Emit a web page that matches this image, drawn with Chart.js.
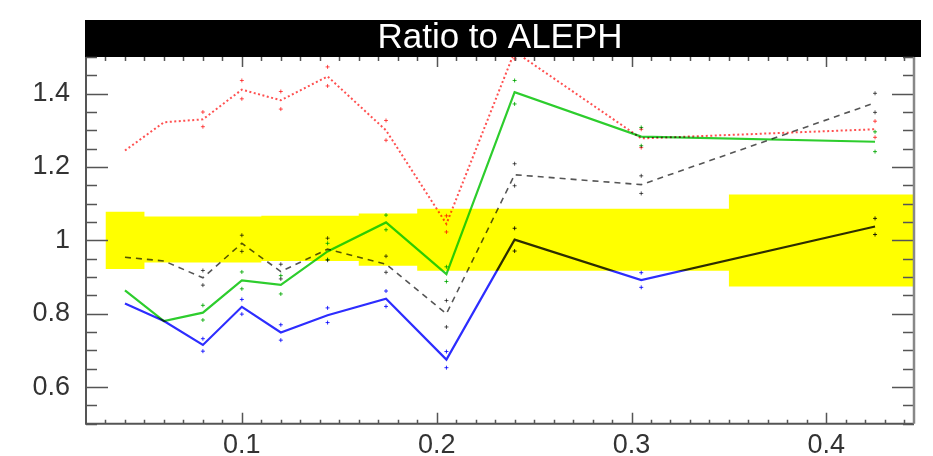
<!DOCTYPE html>
<html><head><meta charset="utf-8">
<script src="https://cdn.jsdelivr.net/npm/chart.js@4"></script>
<style>html,body{margin:0;padding:0;background:#fff}</style>
</head><body>
<canvas id="c" width="933" height="456" style="display:block;width:933px;height:456px"></canvas>
<script>
// ---- data ----
const titleText = 'Ratio to ALEPH';
const xValues  = [0.04, 0.06, 0.08, 0.10, 0.12, 0.144, 0.174, 0.205, 0.24, 0.305, 0.425];
const redSeries   = [1.245, 1.322, 1.330, 1.411, 1.382, 1.447, 1.300, 1.045, 1.515, 1.278, 1.303];
const greenSeries = [0.864, 0.780, 0.803, 0.891, 0.879, 0.970, 1.049, 0.908, 1.404, 1.283, 1.269];
const blueSeries  = [0.828, 0.780, 0.715, 0.819, 0.749, 0.796, 0.841, 0.675, 1.002, 0.892, 1.038];
const graySeries  = [0.954, 0.944, 0.898, 0.992, 0.915, 0.976, 0.935, 0.800, 1.179, 1.152, 1.375];
const redErr   = [0, 0, 0.020, 0.025, 0.024, 0.026, 0.027, 0.022, 0.020, 0.025, 0.022];
const greenErr = [0, 0, 0.020, 0.023, 0.025, 0.022, 0.020, 0.020, 0.032, 0.025, 0.027];
const blueErr  = [0, 0, 0.017, 0.020, 0.021, 0.020, 0.021, 0.022, 0.031, 0.020, 0.022];
const grayErr  = [0, 0, 0.020, 0.022, 0.020, 0.030, 0.022, 0.036, 0.030, 0.024, 0.026];
const bandEdges = [0.03, 0.05, 0.11, 0.16, 0.19, 0.35, 0.45];
const bandHigh  = [1.078, 1.065, 1.067, 1.073, 1.086, 1.125];
const bandLow   = [0.922, 0.940, 0.944, 0.931, 0.917, 0.874];
const xTickValues = [0.1, 0.2, 0.3, 0.4];
const xTickLabels = ['0.1', '0.2', '0.3', '0.4'];
const yTickValues = [0.6, 0.8, 1.0, 1.2, 1.4];
const yTickLabels = ['0.6', '0.8', '1', '1.2', '1.4'];

// ---- build datasets ----
const pts = (ys) => xValues.map((x, i) => ({x, y: ys[i]}));
const errPts = (ys, es) => xValues.flatMap((x, i) => es[i] ? [{x, y: ys[i] + es[i]}, {x, y: ys[i] - es[i]}] : []);
const bandPts = (vals) => bandEdges.map((x, i) => ({x, y: vals[Math.min(i, vals.length - 1)]}));

const lineBase = {pointRadius: 0, fill: false, tension: 0};
const markBase = {showLine: false, pointStyle: 'cross', pointRadius: 2, borderWidth: 1, fill: false};

const datasets = [
  Object.assign({label: 'red', data: pts(redSeries), borderColor: 'rgb(255,80,80)', borderWidth: 2, borderDash: [2, 2.5]}, lineBase),
  Object.assign({label: 'green', data: pts(greenSeries), borderColor: 'rgb(45,205,45)', borderWidth: 2.2}, lineBase),
  Object.assign({label: 'blue', data: pts(blueSeries), borderColor: 'rgb(45,45,255)', borderWidth: 2.2}, lineBase),
  Object.assign({label: 'gray', data: pts(graySeries), borderColor: '#555', borderWidth: 1.6, borderDash: [6, 5]}, lineBase),
  Object.assign({label: 'redErr', data: errPts(redSeries, redErr), borderColor: 'rgb(255,80,80)'}, markBase),
  Object.assign({label: 'greenErr', data: errPts(greenSeries, greenErr), borderColor: 'rgb(40,190,40)'}, markBase),
  Object.assign({label: 'blueErr', data: errPts(blueSeries, blueErr), borderColor: 'rgb(45,45,255)'}, markBase),
  Object.assign({label: 'grayErr', data: errPts(graySeries, grayErr), borderColor: '#555'}, markBase),
  {label: 'bandHigh', data: bandPts(bandHigh), stepped: true, borderWidth: 0, pointRadius: 0, fill: '+1', backgroundColor: '#ffff00', borderColor: 'rgba(0,0,0,0)'},
  {label: 'bandLow', data: bandPts(bandLow), stepped: true, borderWidth: 0, pointRadius: 0, fill: false, borderColor: 'rgba(0,0,0,0)'}
];

// ---- decoration plugin: title bar, multiply blending, frame and inward ticks ----
const framePlugin = {
  id: 'frame',
  beforeDraw(chart) {
    const {ctx, chartArea: a, titleBlock: t} = chart;
    ctx.save();
    ctx.fillStyle = '#000';
    ctx.fillRect(a.left - 1, t.top, a.right - a.left + 8, t.bottom - t.top);
    ctx.restore();
  },
  beforeDatasetsDraw(chart) {
    chart.ctx.save();
    chart.ctx.globalCompositeOperation = 'multiply';
  },
  afterDatasetsDraw(chart) {
    const ctx = chart.ctx;
    ctx.restore();
    const a = chart.chartArea, xs = chart.scales.x, ys = chart.scales.y;
    ctx.save();
    ctx.strokeStyle = '#555';
    ctx.lineWidth = 1.5;
    ctx.beginPath();
    for (let k = 10; k <= 30; k++) {
      const v = k * 0.05;
      const major = yTickValues.some(t => Math.abs(t - v) < 1e-6);
      const len = major ? 22 : 11;
      const py = Math.round(ys.getPixelForValue(v)) + 0.5;
      ctx.moveTo(a.left, py); ctx.lineTo(a.left + len, py);
      ctx.moveTo(a.right, py); ctx.lineTo(a.right - len, py);
    }
    for (let k = 3; k <= 44; k++) {
      const v = k * 0.01;
      const major = xTickValues.some(t => Math.abs(t - v) < 1e-6);
      const px = Math.round(xs.getPixelForValue(v)) + 0.5;
      ctx.moveTo(px, a.bottom); ctx.lineTo(px, a.bottom - (major ? 11 : 4));
      ctx.moveTo(px, a.top); ctx.lineTo(px, a.top + (major ? 10 : 4));
    }
    ctx.stroke();
    ctx.lineWidth = 2;
    ctx.strokeStyle = '#555';
    ctx.beginPath();
    ctx.moveTo(a.left, a.top); ctx.lineTo(a.left, a.bottom); ctx.lineTo(a.right, a.bottom);
    ctx.stroke();
    ctx.strokeStyle = '#888';
    ctx.lineWidth = 2.5;
    ctx.beginPath();
    ctx.moveTo(a.right, a.top); ctx.lineTo(a.right, a.bottom);
    ctx.stroke();
    ctx.restore();
  }
};

const fontFam = '"Liberation Sans", Arial, Helvetica, sans-serif';

new Chart(document.getElementById('c'), {
  type: 'line',
  data: {datasets},
  options: {
    responsive: false,
    animation: false,
    devicePixelRatio: 1,
    layout: {padding: {top: 20, left: 0, right: 19, bottom: 0}},
    plugins: {
      legend: {display: false},
      tooltip: {enabled: false},
      title: {
        display: true, text: titleText, fullSize: false, color: '#fff',
        font: {family: fontFam, size: 35, weight: 'normal', lineHeight: 1},
        padding: {top: 1, bottom: 1}
      }
    },
    scales: {
      x: {
        type: 'linear', min: 0.02, max: 0.445,
        afterFit(s) { s.height = 31; },
        afterBuildTicks(s) { s.ticks = xTickValues.map(v => ({value: v})); },
        grid: {display: false, drawTicks: false},
        border: {display: false},
        ticks: {padding: 6, color: '#333', maxRotation: 0, autoSkip: false,
          font: {family: fontFam, size: 27},
          callback: (v, i) => xTickLabels[i]}
      },
      y: {
        type: 'linear', min: 0.5, max: 1.5,
        afterFit(s) { s.width = 86; },
        afterBuildTicks(s) { s.ticks = yTickValues.map(v => ({value: v})); },
        grid: {display: false, drawTicks: false},
        border: {display: false},
        ticks: {padding: 16, color: '#333', autoSkip: false,
          font: {family: fontFam, size: 27},
          callback: (v, i) => yTickLabels[i]}
      }
    }
  },
  plugins: [framePlugin]
});
</script>
</body></html>
